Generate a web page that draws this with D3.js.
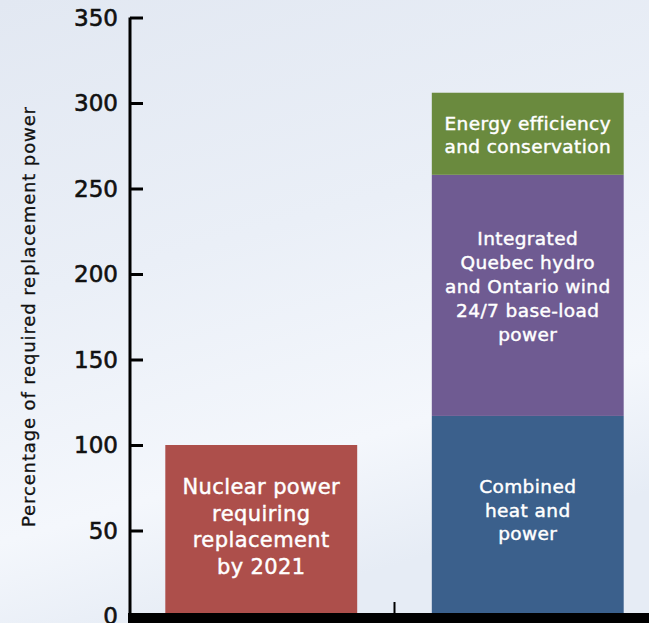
<!DOCTYPE html>
<html>
<head>
<meta charset="utf-8">
<script src="https://cdn.jsdelivr.net/npm/d3@7"></script>
<style>
  html, body { margin: 0; padding: 0; }
  svg { display: block; font-family: "DejaVu Sans", Inter, sans-serif; }
</style>
</head>
<body>
<svg id="chart" width="649" height="623"></svg>
<script>
// data
const categories = ["Nuclear", "Replacement"]
const yTicks = [0, 50, 100, 150, 200, 250, 300, 350]
const segNames = ["Nuclear power requiring replacement by 2021", "Combined heat and power", "Integrated Quebec hydro and Ontario wind 24/7 base-load power", "Energy efficiency and conservation"]
const segCategory = ["Nuclear", "Replacement", "Replacement", "Replacement"]
const segValues = [100, 117, 141, 48]
const segLines = [
  ["Nuclear power", "requiring", "replacement", "by 2021"],
  ["Combined", "heat and", "power"],
  ["Integrated", "Quebec hydro", "and Ontario wind", "24/7 base-load", "power"],
  ["Energy efficiency", "and conservation"]
]
const segColors = ["#ad4f4b", "#3b608c", "#6f5b92", "#6a8a3e"]

const svg = d3.select("#chart")
const W = 649, H = 623

// background
const defs = svg.append("defs")
const grad = defs.append("linearGradient").attr("id", "bg")
  .attr("x1", "0").attr("y1", "0").attr("x2", "0.3").attr("y2", "1")
grad.append("stop").attr("offset", "0").attr("stop-color", "#e2e8f2")
grad.append("stop").attr("offset", "0.45").attr("stop-color", "#eaeff7")
grad.append("stop").attr("offset", "0.8").attr("stop-color", "#f4f7fc")
grad.append("stop").attr("offset", "1").attr("stop-color", "#e6ecf5")
svg.append("rect").attr("width", W).attr("height", H).attr("fill", "url(#bg)")

const y = d3.scaleLinear().domain([0, 350]).range([616, 17.5])
const x = d3.scaleBand().domain(categories).range([128, 661])
  .paddingInner(0.28).paddingOuter(0.14)

// stacked bars
let bases = {}
const segs = segValues.map((v, i) => {
  const c = segCategory[i]
  const b = bases[c] || 0
  bases[c] = b + v
  return { i, c, y0: b, y1: b + v }
})

const g = svg.append("g")
g.selectAll("rect.seg").data(segs).join("rect")
  .attr("class", "seg")
  .attr("x", d => x(d.c))
  .attr("width", x.bandwidth())
  .attr("y", d => y(d.y1))
  .attr("height", d => y(d.y0) - y(d.y1))
  .attr("fill", d => segColors[d.i])

// bar labels (small nudges so the block sits like the original)
const nudge = [-4, -6, -9, 1]
segs.forEach(d => {
  const lines = segLines[d.i]
  const big = d.i === 0
  const lh = big ? 26.5 : 23.8
  const cx = x(d.c) + x.bandwidth() / 2
  const cy = (y(d.y0) + y(d.y1)) / 2 + nudge[d.i]
  const t = g.append("text")
    .attr("x", cx)
    .attr("text-anchor", "middle")
    .attr("fill", "#fff")
    .attr("stroke", "#fff")
    .attr("stroke-width", 0.45)
    .attr("letter-spacing", 0.4)
    .attr("font-size", big ? 21 : 18.5)
  lines.forEach((s, k) => {
    t.append("tspan")
      .attr("x", cx)
      .attr("y", cy + (k - (lines.length - 1) / 2) * lh)
      .attr("dy", "0.36em")
      .text(s)
  })
})

// y axis
const yAxis = svg.append("g")
  .attr("transform", "translate(130,0)")
  .call(d3.axisRight(y).tickValues(yTicks).tickSize(13).tickFormat(""))
yAxis.select(".domain").attr("stroke", "#000").attr("stroke-width", 3)
  .attr("d", `M0,${y(350)}V${y(0)}`)
yAxis.selectAll(".tick line").attr("stroke", "#000").attr("stroke-width", 3)

svg.append("g").selectAll("text").data(yTicks).join("text")
  .attr("x", 118)
  .attr("y", d => y(d))
  .attr("dy", "0.36em")
  .attr("text-anchor", "end")
  .attr("font-size", 23)
  .attr("fill", "#111")
  .attr("stroke", "#111")
  .attr("stroke-width", 0.6)
  .text(d => d)

// x baseline and category divider
svg.append("rect").attr("x", 128).attr("y", 613).attr("width", W - 128).attr("height", 10).attr("fill", "#000")
const mid = (x(categories[0]) + x.bandwidth() + x(categories[1])) / 2
svg.append("line").attr("x1", mid).attr("x2", mid).attr("y1", 602).attr("y2", 613)
  .attr("stroke", "#000").attr("stroke-width", 2)

// axis title
svg.append("text")
  .attr("transform", "translate(35,317) rotate(-90)")
  .attr("text-anchor", "middle")
  .attr("font-size", 18)
  .attr("textLength", 420)
  .attr("lengthAdjust", "spacing")
  .attr("fill", "#111")
  .attr("stroke", "#111")
  .attr("stroke-width", 0.3)
  .text("Percentage of required replacement power")
</script>
</body>
</html>
